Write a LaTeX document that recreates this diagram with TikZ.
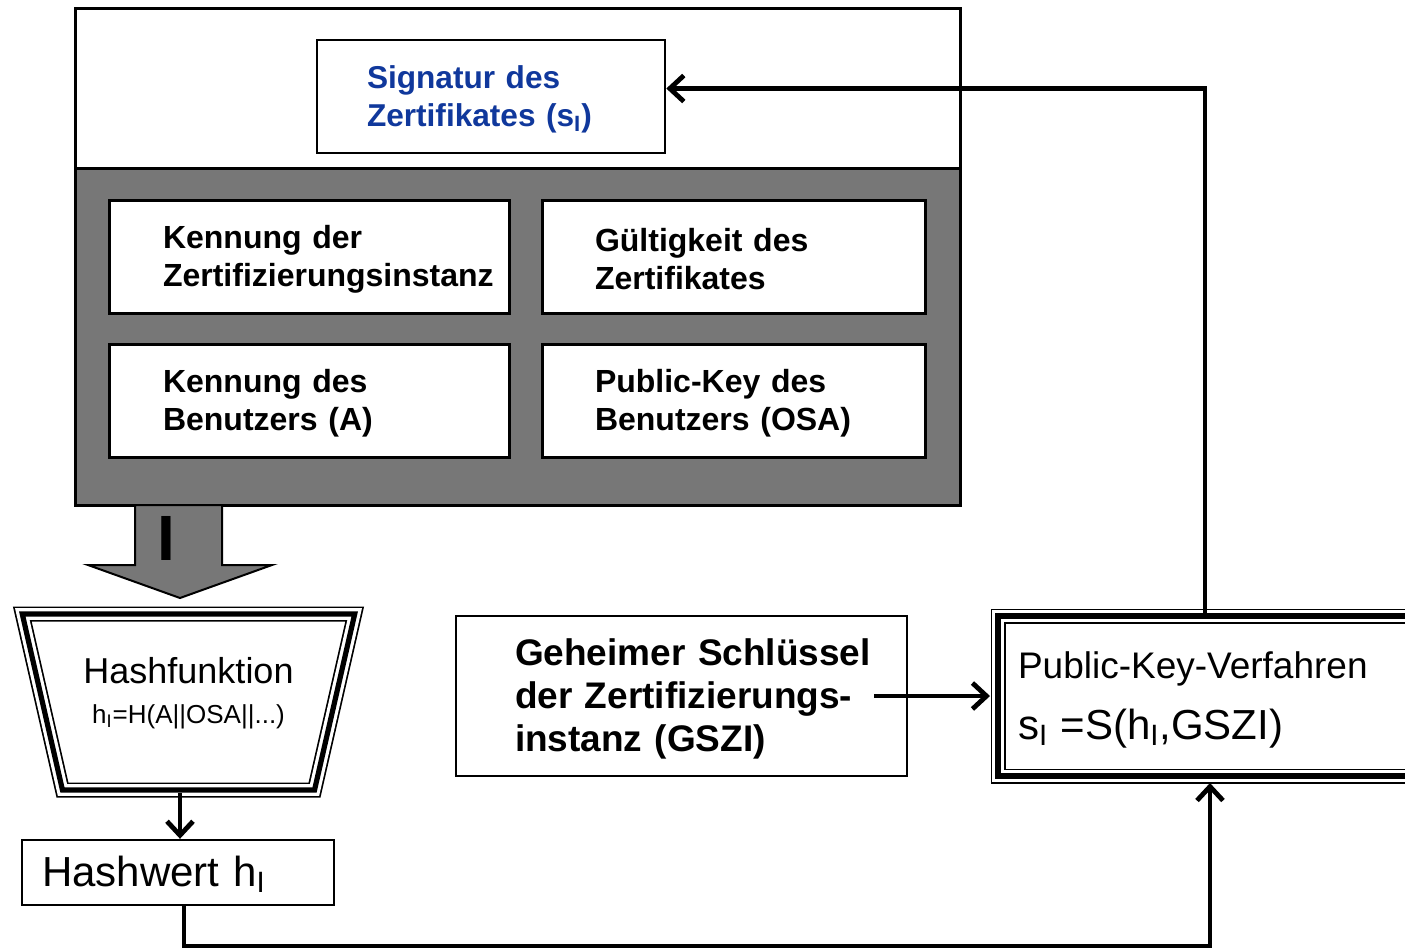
\documentclass[tikz,border=0pt]{standalone}
\usepackage{fontspec}
\setmainfont{Liberation Sans}
\usepackage{tikz}
\usetikzlibrary{positioning}
\usetikzlibrary{arrows.meta}
\usetikzlibrary{shapes.geometric}
\definecolor{certgray}{RGB}{119,119,119}
\definecolor{sigblue}{RGB}{16,56,156}

\begin{document}
\begin{tikzpicture}[
x=0.5pt, y=-0.5pt,
>={Straight Barb[length=7pt,width=13pt]},
certbox/.style={rectangle, draw=black, line width=1.5pt, minimum width=442.5pt, inner sep=0pt},
fieldnode/.style={rectangle, draw=black, fill=white, line width=1.5pt, minimum height=56.5pt, inner ysep=0pt, text height=14pt, align=left, font=\fontsize{16}{19}\selectfont\bfseries},
textbox/.style={rectangle, draw=black, fill=white, line width=1.3pt, inner ysep=0pt, align=left},
tripleline/.style={preaction={fill=white}, preaction={draw=black, line width=7.5pt}, preaction={draw=white, line width=5.8pt}, draw=black, line width=2.6pt},
bigarrow/.style={draw=black, fill=certgray, line width=1pt},
conn/.style={line width=2.4pt, ->},
nobreak/.style={execute at begin node={\hyphenpenalty=10000 \exhyphenpenalty=10000 }},
]
\useasboundingbox (0,0) rectangle (1405,950);

%Nodes
\node[certbox, fill=white, minimum height=80pt]      (certtop)  at (517.5,88)  {};
\node[certbox, fill=certgray, minimum height=168.5pt] (certbody) at (517.5,336.5) {};
\node[textbox, text width=124pt, inner xsep=25pt, minimum height=56.5pt, text height=14pt, text=sigblue, font=\fontsize{15.8}{19}\selectfont\bfseries] (sig) at (491,96.5) {Signatur des\\Zertifikates (s\textsubscript{I})};

\node[fieldnode, text width=146pt, inner xsep=27pt, nobreak]     (kzi) at (309,256.5)  {Kennung der\\Zertifizierungsinstanz};
\node[fieldnode, text width=138.5pt, inner xsep=26.5pt]          (gue) [right=15pt of kzi] {Gültigkeit des\\Zertifikates};
\node[fieldnode, text width=146pt, inner xsep=27pt]              (kb)  [below=14pt of kzi] {Kennung des\\Benutzers (A)};
\node[fieldnode, text width=138.5pt, inner xsep=26.5pt, nobreak] (pk)  [right=15pt of kb]  {Public-Key des\\Benutzers (OSA)};

%Big arrow
\draw[bigarrow] (135,505) -- (135,565) -- (88,565) -- (180,598) -- (272,565) -- (222,565) -- (222,505) -- cycle;
\node[inner sep=0pt, font=\fontsize{32}{32}\selectfont\bfseries] (idx) at (166,538) {I};

\node[tripleline, trapezium, shape border rotate=180, trapezium left angle=71, trapezium right angle=71, trapezium stretches=true, minimum width=166.5pt, minimum height=88pt, align=center, text depth=12pt, font=\fontsize{18}{20}\selectfont] (hashfkt) at (188.5,702) {Hashfunktion\\{\fontsize{13}{15}\selectfont h\textsubscript{I}=H(A||OSA||...)}};
\node[textbox, text width=136pt, inner xsep=10pt, minimum height=32.5pt, text height=17pt, line width=1.2pt, font=\fontsize{21}{24}\selectfont] (hw) at (178,872.5) {Hashwert h\textsubscript{I}};

\node[textbox, text width=166.5pt, inner xsep=29.5pt, minimum height=80pt, text height=16.5pt, font=\fontsize{18.5}{21.5}\selectfont\bfseries, nobreak] (gsk) at (681.5,696) {Geheimer~Schlüssel\\der~Zertifizierungs-\\instanz (GSZI)};
\node[tripleline, rectangle, text width=211pt, inner xsep=10pt, minimum height=80pt, text height=17.5pt, align=left, font=\fontsize{18.5}{30.5}\selectfont] (pkv) at (1229,696) {Public-Key-Verfahren\\{\fontsize{21}{30.5}\selectfont s\textsubscript{I} =S(h\textsubscript{I},GSZI)}};

\coordinate (rail) at (600,946);

%Lines
\draw[conn] ([xshift=-12pt]pkv.north) |- ([yshift=4pt]sig.east);
\draw[conn, shorten >=2.7pt] ([xshift=-17pt]gsk.east) -- (pkv.west);
\draw[conn] (hashfkt.south -| hw.north) ++(1pt,0) -- ([xshift=1pt]hw.north);
\draw[conn, shorten >=2.2pt] ([xshift=3pt]hw.south) |- (rail) -| ([xshift=-9.5pt]pkv.south);
\end{tikzpicture}
\end{document}
